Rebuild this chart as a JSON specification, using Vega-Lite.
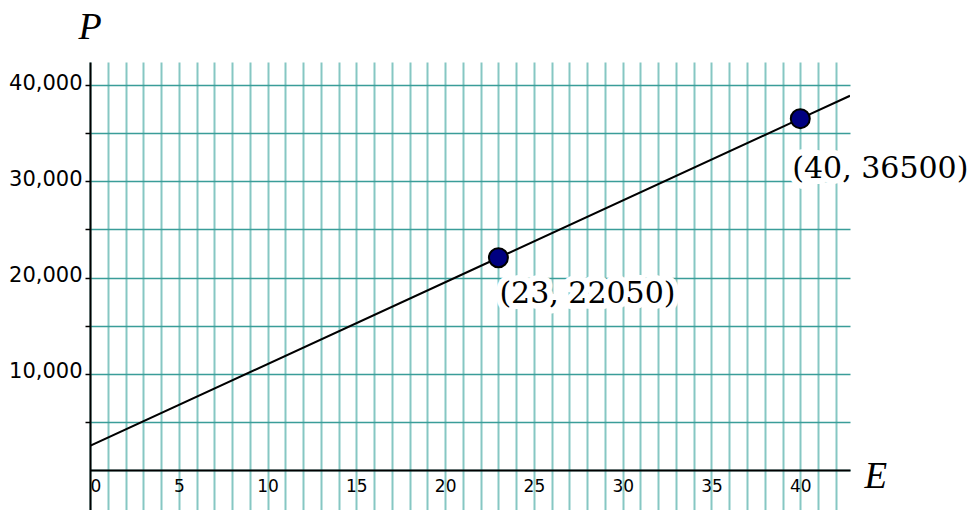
{
  "$schema": "https://vega.github.io/schema/vega-lite/v6.json",
  "width": 760,
  "height": 448,
  "autosize": {"type": "none"},
  "padding": {"left": 90, "top": 62, "right": 121, "bottom": 0},
  "background": "white",
  "config": {"view": {"stroke": null}},
  "datasets": {
    "line": [
      {"E": 0, "P": 2500},
      {"E": 23, "P": 22050},
      {"E": 40, "P": 36500},
      {"E": 42.8, "P": 38880}
    ],
    "pts": [
      {"E": 23, "P": 22050, "label": "(23, 22050)"},
      {"E": 40, "P": 36500, "label": "(40, 36500)"}
    ]
  },
  "encoding": {
    "x": {
      "field": "E",
      "type": "quantitative",
      "scale": {"domain": [0, 42.8], "nice": false, "zero": false},
      "axis": {
        "values": [0,1,2,3,4,5,6,7,8,9,10,11,12,13,14,15,16,17,18,19,20,21,22,23,24,25,26,27,28,29,30,31,32,33,34,35,36,37,38,39,40,41,42],
        "labelExpr": "datum.value % 5 == 0 ? datum.label : ''",
        "labelFlush": true,
        "labelOverlap": false,
        "labelBound": false,
        "labelFont": "DejaVu Sans",
        "labelFontSize": 17,
        "labelColor": "black",
        "labelPadding": 8,
        "ticks": false,
        "domainColor": "black",
        "domainWidth": 2,
        "offset": -40,
        "grid": true,
        "gridColor": "#86c7c3",
        "gridWidth": 2,
        "gridOpacity": 1,
        "title": "E",
        "titleFont": "Liberation Serif",
        "titleFontStyle": "italic",
        "titleFontWeight": "normal",
        "titleFontSize": 37,
        "titleColor": "black",
        "titleX": 774,
        "titleY": 17,
        "titleAlign": "left",
        "titleBaseline": "alphabetic"
      }
    },
    "y": {
      "field": "P",
      "type": "quantitative",
      "scale": {"domain": [-4156, 42390], "nice": false, "zero": false},
      "axis": {
        "values": [0, 5000, 10000, 15000, 20000, 25000, 30000, 35000, 40000],
        "labelExpr": "datum.value > 0 && datum.value % 10000 == 0 ? format(datum.value, ',') : ''",
        "labelOverlap": false,
        "labelBound": false,
        "labelFont": "DejaVu Sans",
        "labelFontSize": 21,
        "labelColor": "black",
        "labelPadding": 3,
        "labelOffset": -2,
        "tickSize": 5,
        "tickColor": "black",
        "tickWidth": 1.5,
        "tickOpacity": {"condition": {"test": "datum.value == 0", "value": 0}, "value": 1},
        "domainColor": "black",
        "domainWidth": 2,
        "grid": true,
        "gridColor": "#3a9d99",
        "gridWidth": 1.5,
        "gridOpacity": 1,
        "title": "P",
        "titleFont": "Liberation Serif",
        "titleFontStyle": "italic",
        "titleFontWeight": "normal",
        "titleFontSize": 38,
        "titleColor": "black",
        "titleAngle": 0,
        "titleX": -12,
        "titleY": -24,
        "titleAlign": "left",
        "titleBaseline": "alphabetic"
      }
    }
  },
  "layer": [
    {
      "data": {"name": "line"},
      "mark": {"type": "line", "color": "black", "strokeWidth": 2, "clip": true}
    },
    {
      "data": {"name": "pts"},
      "transform": [{"filter": "datum.E == 23"}],
      "mark": {"type": "text", "align": "left", "baseline": "alphabetic", "dx": 1, "dy": 45, "font": "DejaVu Serif", "fontSize": 30, "fill": "white", "stroke": "white", "strokeWidth": 12, "strokeJoin": "round"},
      "encoding": {"text": {"field": "label"}}
    },
    {
      "data": {"name": "pts"},
      "transform": [{"filter": "datum.E == 40"}],
      "mark": {"type": "text", "align": "left", "baseline": "alphabetic", "dx": -8, "dy": 59, "font": "DejaVu Serif", "fontSize": 30, "fill": "white", "stroke": "white", "strokeWidth": 12, "strokeJoin": "round"},
      "encoding": {"text": {"field": "label"}}
    },
    {
      "data": {"name": "pts"},
      "transform": [{"filter": "datum.E == 23"}],
      "mark": {"type": "text", "align": "left", "baseline": "alphabetic", "dx": 1, "dy": 45, "font": "DejaVu Serif", "fontSize": 30, "fill": "black"},
      "encoding": {"text": {"field": "label"}}
    },
    {
      "data": {"name": "pts"},
      "transform": [{"filter": "datum.E == 40"}],
      "mark": {"type": "text", "align": "left", "baseline": "alphabetic", "dx": -8, "dy": 59, "font": "DejaVu Serif", "fontSize": 30, "fill": "black"},
      "encoding": {"text": {"field": "label"}}
    },
    {
      "data": {"name": "pts"},
      "mark": {"type": "circle", "size": 360, "fill": "#000080", "stroke": "black", "strokeWidth": 2, "opacity": 1}
    }
  ]
}
